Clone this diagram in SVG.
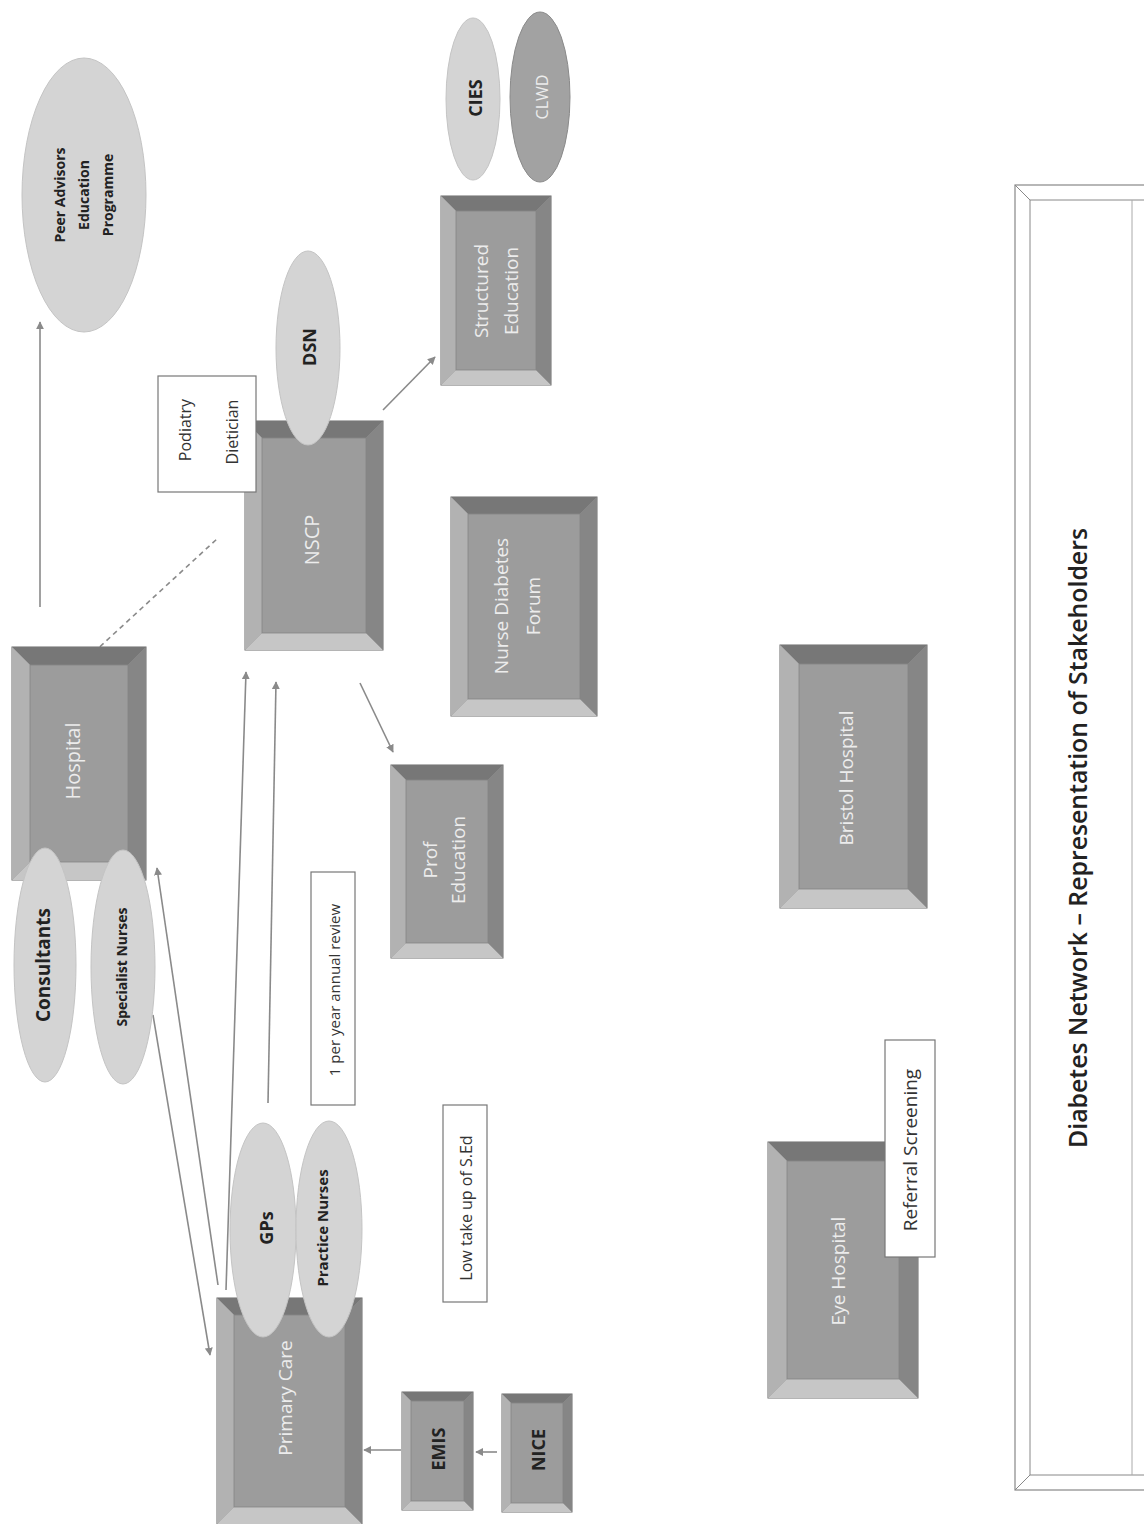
<svg xmlns="http://www.w3.org/2000/svg" width="1144" height="1524" viewBox="0 0 1144 1524">
<defs>
<marker id="ah" viewBox="0 0 10 10" refX="9" refY="5" markerWidth="8" markerHeight="8" markerUnits="userSpaceOnUse" orient="auto">
<path d="M0,0 L10,5 L0,10 z" fill="#8a8a8a"/>
</marker>
<style>
.face{fill:#9a9a9a;stroke:#6a6a6a;stroke-width:1}
.t{fill:#777777}.l{fill:#b2b2b2}.r{fill:#868686}.b{fill:#c6c6c6}
.in{fill:#9c9c9c;stroke:#858585;stroke-width:0.8}
.bt{font-family:"Open Sans","Noto Sans",sans-serif;font-size:19px;fill:#ececec;text-anchor:middle}
.et{font-family:"Open Sans","Noto Sans",sans-serif;font-size:18px;font-weight:bold;fill:#222;text-anchor:middle}
.ell{fill:#d4d4d4;stroke:#c4c4c4;stroke-width:1}
.note{fill:#fff;stroke:#777;stroke-width:1.2}
.nt{font-family:"Open Sans","Noto Sans",sans-serif;fill:#333;text-anchor:middle}
.con{stroke:#8a8a8a;stroke-width:1.6;fill:none}
</style>
</defs>
<rect width="1144" height="1524" fill="#fff"/>

<g id="title-frame">
<rect x="1015" y="185" width="140" height="1305" fill="#fff" stroke="#888" stroke-width="1.2"/>
<polyline points="1015,185 1030,200 1144,200" fill="none" stroke="#888" stroke-width="1"/>
<polyline points="1015,1490 1030,1475 1144,1475" fill="none" stroke="#888" stroke-width="1"/>
<line x1="1030" y1="200" x2="1030" y2="1475" stroke="#888" stroke-width="1"/>
<line x1="1132" y1="200" x2="1132" y2="1475" stroke="#aaa" stroke-width="1"/>
<text x="1077" y="838" transform="rotate(-90 1077 838)" font-family="Open Sans,Noto Sans,sans-serif" font-size="25" font-weight="600" fill="#222" text-anchor="middle" dominant-baseline="central" textLength="620" lengthAdjust="spacingAndGlyphs">Diabetes Network – Representation of Stakeholders</text>
</g>

<g id="connectors">
<line class="con" x1="40" y1="607" x2="40" y2="322" marker-end="url(#ah)"/>
<line class="con" x1="80" y1="665" x2="218" y2="538" stroke-dasharray="5,4"/>
<line class="con" x1="383" y1="410" x2="435" y2="357" marker-end="url(#ah)"/>
<line class="con" x1="360" y1="683" x2="393" y2="752" marker-end="url(#ah)"/>
<line class="con" x1="218" y1="1285" x2="157" y2="868" marker-end="url(#ah)"/>
<line class="con" x1="153" y1="1015" x2="210" y2="1355" marker-end="url(#ah)"/>
<line class="con" x1="226" y1="1290" x2="246" y2="672" marker-end="url(#ah)"/>
<line class="con" x1="268" y1="1103" x2="276" y2="682" marker-end="url(#ah)"/>
<line class="con" x1="401" y1="1450" x2="364" y2="1450" marker-end="url(#ah)"/>
<line class="con" x1="497" y1="1452" x2="476" y2="1452" marker-end="url(#ah)"/>
</g>

<g id="peer-advisors">
<ellipse class="ell" cx="84" cy="195" rx="62" ry="137"/>
<text class="et" transform="rotate(-90 84 195)" x="84" y="195" style="font-size:14px"><tspan x="84" dy="-19">Peer Advisors</tspan><tspan x="84" dy="24">Education</tspan><tspan x="84" dy="24">Programme</tspan></text>
</g>

<g id="hospital">
<rect class="face" x="12" y="647" width="134" height="233"/>
<polygon class="t" points="12,647 146,647 128,665 30,665"/>
<polygon class="b" points="12,880 146,880 128,862 30,862"/>
<polygon class="l" points="12,647 30,665 30,862 12,880"/>
<polygon class="r" points="146,647 128,665 128,862 146,880"/>
<rect class="in" x="30" y="665" width="98" height="197"/>
<text class="bt" transform="rotate(-90 72 761)" x="72" y="761" style="font-size:20px" dominant-baseline="central">Hospital</text>
</g>

<g id="consultants">
<ellipse class="ell" cx="45" cy="965" rx="31" ry="117"/>
<text class="et" transform="rotate(-90 43 965)" x="43" y="965" style="font-size:19px" dominant-baseline="central">Consultants</text>
</g>
<g id="specialist-nurses">
<ellipse class="ell" cx="123" cy="967" rx="32" ry="117"/>
<text class="et" transform="rotate(-90 121 967)" x="121" y="967" style="font-size:14px" dominant-baseline="central">Specialist Nurses</text>
</g>

<g id="nscp">
<rect class="face" x="245" y="421" width="138" height="229"/>
<polygon class="t" points="245,421 383,421 366,438 262,438"/>
<polygon class="b" points="245,650 383,650 366,633 262,633"/>
<polygon class="l" points="245,421 262,438 262,633 245,650"/>
<polygon class="r" points="383,421 366,438 366,633 383,650"/>
<rect class="in" x="262" y="438" width="104" height="195"/>
<text class="bt" transform="rotate(-90 311 540)" x="311" y="540" style="font-size:20px" dominant-baseline="central">NSCP</text>
</g>

<g id="podiatry-dietician">
<rect class="note" x="158" y="376" width="98" height="116"/>
<text class="nt" font-size="16" transform="rotate(-90 185 430)" x="185" y="430" dominant-baseline="central">Podiatry</text>
<text class="nt" font-size="16" transform="rotate(-90 232 432)" x="232" y="432" dominant-baseline="central">Dietician</text>
</g>

<g id="dsn">
<ellipse class="ell" cx="308" cy="348" rx="32" ry="97"/>
<text class="et" transform="rotate(-90 309 347)" x="309" y="347" dominant-baseline="central">DSN</text>
</g>

<g id="structured-education">
<rect class="face" x="441" y="196" width="110" height="189"/>
<polygon class="t" points="441,196 551,196 536,211 456,211"/>
<polygon class="b" points="441,385 551,385 536,370 456,370"/>
<polygon class="l" points="441,196 456,211 456,370 441,385"/>
<polygon class="r" points="551,196 536,211 536,370 551,385"/>
<rect class="in" x="456" y="211" width="80" height="159"/>
<text class="bt" transform="rotate(-90 496 291)" x="496" y="291"><tspan x="496" dy="-8">Structured</tspan><tspan x="496" dy="30">Education</tspan></text>
</g>

<g id="cies">
<ellipse class="ell" cx="473" cy="99" rx="27" ry="81"/>
<text class="et" transform="rotate(-90 475 98)" x="475" y="98" dominant-baseline="central">CIES</text>
</g>
<g id="clwd">
<ellipse cx="540" cy="97" rx="30" ry="85" fill="#a2a2a2" stroke="#8a8a8a"/>
<text class="bt" transform="rotate(-90 542 97)" x="542" y="97" style="font-size:16px" dominant-baseline="central">CLWD</text>
</g>

<g id="nurse-diabetes-forum">
<rect class="face" x="451" y="497" width="146" height="219"/>
<polygon class="t" points="451,497 597,497 580,514 468,514"/>
<polygon class="b" points="451,716 597,716 580,699 468,699"/>
<polygon class="l" points="451,497 468,514 468,699 451,716"/>
<polygon class="r" points="597,497 580,514 580,699 597,716"/>
<rect class="in" x="468" y="514" width="112" height="185"/>
<text class="bt" transform="rotate(-90 517 606)" x="517" y="606"><tspan x="517" dy="-9">Nurse Diabetes</tspan><tspan x="517" dy="32">Forum</tspan></text>
</g>

<g id="prof-education">
<rect class="face" x="391" y="765" width="112" height="193"/>
<polygon class="t" points="391,765 503,765 488,780 406,780"/>
<polygon class="b" points="391,958 503,958 488,943 406,943"/>
<polygon class="l" points="391,765 406,780 406,943 391,958"/>
<polygon class="r" points="503,765 488,780 488,943 503,958"/>
<rect class="in" x="406" y="780" width="82" height="163"/>
<text class="bt" transform="rotate(-90 445 860)" x="445" y="860"><tspan x="445" dy="-8">Prof</tspan><tspan x="445" dy="28">Education</tspan></text>
</g>

<g id="annual-review">
<rect class="note" x="311" y="872" width="44" height="233"/>
<text class="nt" font-size="15" transform="rotate(-90 334 990)" x="334" y="990" dominant-baseline="central">1 per year annual review</text>
</g>

<g id="low-take-up">
<rect class="note" x="443" y="1105" width="44" height="197"/>
<text class="nt" font-size="16" transform="rotate(-90 466 1208)" x="466" y="1208" dominant-baseline="central">Low take up of S.Ed</text>
</g>

<g id="primary-care">
<rect class="face" x="217" y="1298" width="145" height="226"/>
<polygon class="t" points="217,1298 362,1298 345,1315 234,1315"/>
<polygon class="b" points="217,1524 362,1524 345,1507 234,1507"/>
<polygon class="l" points="217,1298 234,1315 234,1507 217,1524"/>
<polygon class="r" points="362,1298 345,1315 345,1507 362,1524"/>
<rect class="in" x="234" y="1315" width="111" height="192"/>
<text class="bt" transform="rotate(-90 285 1398)" x="285" y="1398" dominant-baseline="central">Primary Care</text>
</g>

<g id="gps">
<ellipse class="ell" cx="263" cy="1230" rx="33" ry="107"/>
<text class="et" transform="rotate(-90 266 1228)" x="266" y="1228" dominant-baseline="central">GPs</text>
</g>
<g id="practice-nurses">
<ellipse class="ell" cx="329" cy="1229" rx="33" ry="108"/>
<text class="et" transform="rotate(-90 322 1228)" x="322" y="1228" style="font-size:15px" dominant-baseline="central">Practice Nurses</text>
</g>

<g id="emis">
<rect class="face" x="402" y="1392" width="71" height="118"/>
<polygon class="t" points="402,1392 473,1392 464,1401 411,1401"/>
<polygon class="b" points="402,1510 473,1510 464,1501 411,1501"/>
<polygon class="l" points="402,1392 411,1401 411,1501 402,1510"/>
<polygon class="r" points="473,1392 464,1401 464,1501 473,1510"/>
<rect class="in" x="411" y="1401" width="53" height="100"/>
<text class="et" transform="rotate(-90 438 1449)" x="438" y="1449" dominant-baseline="central">EMIS</text>
</g>

<g id="nice">
<rect class="face" x="502" y="1394" width="70" height="118"/>
<polygon class="t" points="502,1394 572,1394 563,1403 511,1403"/>
<polygon class="b" points="502,1512 572,1512 563,1503 511,1503"/>
<polygon class="l" points="502,1394 511,1403 511,1503 502,1512"/>
<polygon class="r" points="572,1394 563,1403 563,1503 572,1512"/>
<rect class="in" x="511" y="1403" width="52" height="100"/>
<text class="et" transform="rotate(-90 538 1450)" x="538" y="1450" dominant-baseline="central">NICE</text>
</g>

<g id="bristol-hospital">
<rect class="face" x="780" y="645" width="147" height="263"/>
<polygon class="t" points="780,645 927,645 908,664 799,664"/>
<polygon class="b" points="780,908 927,908 908,889 799,889"/>
<polygon class="l" points="780,645 799,664 799,889 780,908"/>
<polygon class="r" points="927,645 908,664 908,889 927,908"/>
<rect class="in" x="799" y="664" width="109" height="225"/>
<text class="bt" transform="rotate(-90 846 778)" x="846" y="778" dominant-baseline="central">Bristol Hospital</text>
</g>

<g id="eye-hospital">
<rect class="face" x="768" y="1142" width="150" height="256"/>
<polygon class="t" points="768,1142 918,1142 899,1161 787,1161"/>
<polygon class="b" points="768,1398 918,1398 899,1379 787,1379"/>
<polygon class="l" points="768,1142 787,1161 787,1379 768,1398"/>
<polygon class="r" points="918,1142 899,1161 899,1379 918,1398"/>
<rect class="in" x="787" y="1161" width="112" height="218"/>
<text class="bt" transform="rotate(-90 838 1271)" x="838" y="1271" dominant-baseline="central">Eye Hospital</text>
</g>

<g id="referral-screening">
<rect class="note" x="885" y="1040" width="50" height="217"/>
<text class="nt" font-size="19" transform="rotate(-90 910 1150)" x="910" y="1150" dominant-baseline="central">Referral Screening</text>
</g>
</svg>
